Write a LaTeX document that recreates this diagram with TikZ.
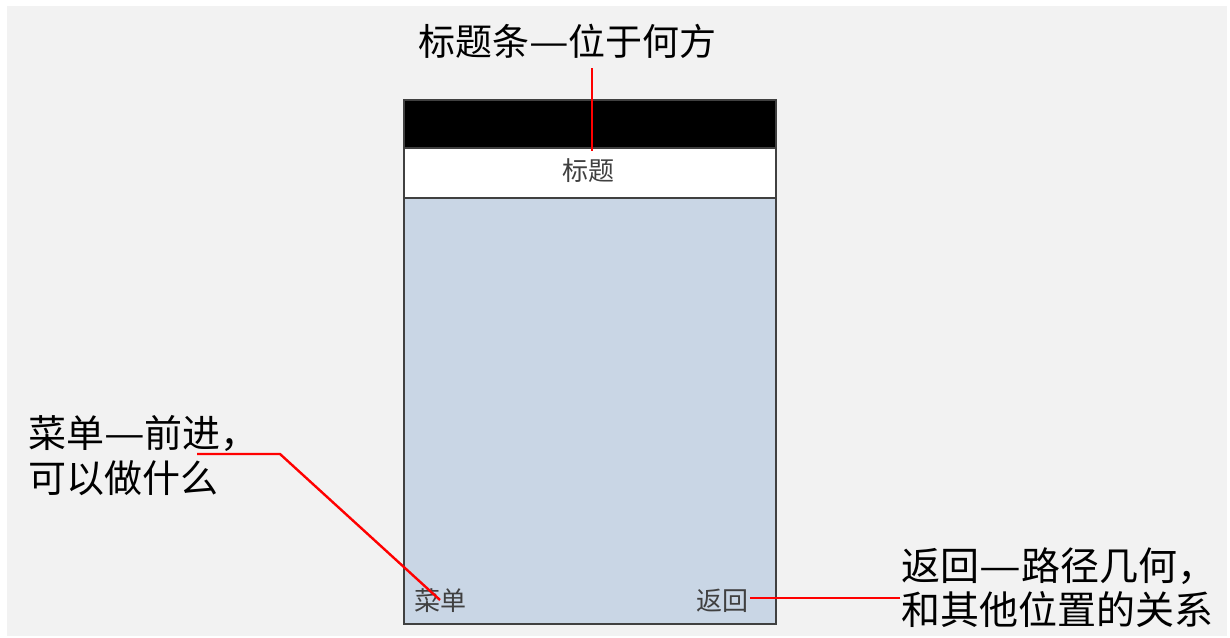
\documentclass[tikz,border=0pt]{standalone}
\usepackage{fontspec}
\setmainfont{Noto Sans CJK SC}
\definecolor{bg}{HTML}{F2F2F2}
\definecolor{bodyblue}{HTML}{C9D6E5}
\definecolor{labelgray}{HTML}{404040}
\definecolor{framegray}{HTML}{404040}
\newcommand{\wdash}{\scalebox{1.2}[1]{—}}
\begin{document}
\begin{tikzpicture}[x=1pt,y=-1pt,
  big/.style={font=\fontsize{37}{44}\selectfont, inner sep=0pt, anchor=base west, text=black},
  bigl/.style={big, font=\fontsize{38}{44}\selectfont},
  bigr/.style={big, font=\fontsize{39}{44}\selectfont},
  small/.style={font=\fontsize{26}{30}\selectfont, inner sep=0pt, text=labelgray},
  redline/.style={draw=red, line width=2.4pt},
  frame/.style={draw=framegray, line width=1.5pt, inner sep=0pt, anchor=north west, minimum width=372pt}]
\useasboundingbox (0,0) rectangle (1230,637);
\fill[white] (0,0) rectangle (1230,637);
\fill[bg] (7,6) rectangle (1227,636);
% phone
\node[frame, fill=bodyblue, minimum height=426pt] (body) at (403,197) {};
\node[frame, fill=black, minimum height=48pt] (status) at (403,99) {};
\node[frame, fill=white, minimum height=50pt] (titlebar) at (403,147) {};
% labels in phone
\node[small, anchor=base] (title) at (588,180) {标题};
\node[small, anchor=base west] (menu) at (414,610) {菜单};
\node[small, anchor=base east] (back) at (749,610) {返回};
% annotations
\node[big] (top) at (418,55) {标题条\wdash 位于何方};
\node[bigl] (left1) at (28,447) {菜单\wdash 前进，};
\node[bigl] (left2) at (28,492) {可以做什么};
\node[bigr] (right1) at (901,580) {返回\wdash 路径几何，};
\node[bigr] (right2) at (901,624) {和其他位置的关系};
% connector ends
\coordinate (ta) at (592,68);
\coordinate (tb) at (592,151);
\coordinate (la) at (197,454);
\coordinate (lb) at (280,454);
\coordinate (lc) at (440,600);
\coordinate (ra) at (750,598);
\coordinate (rb) at (900,598);
\draw[redline] (ta) -- (tb);
\draw[redline] (la) -- (lb) -- (lc);
\draw[redline] (ra) -- (rb);
\end{tikzpicture}
\end{document}
